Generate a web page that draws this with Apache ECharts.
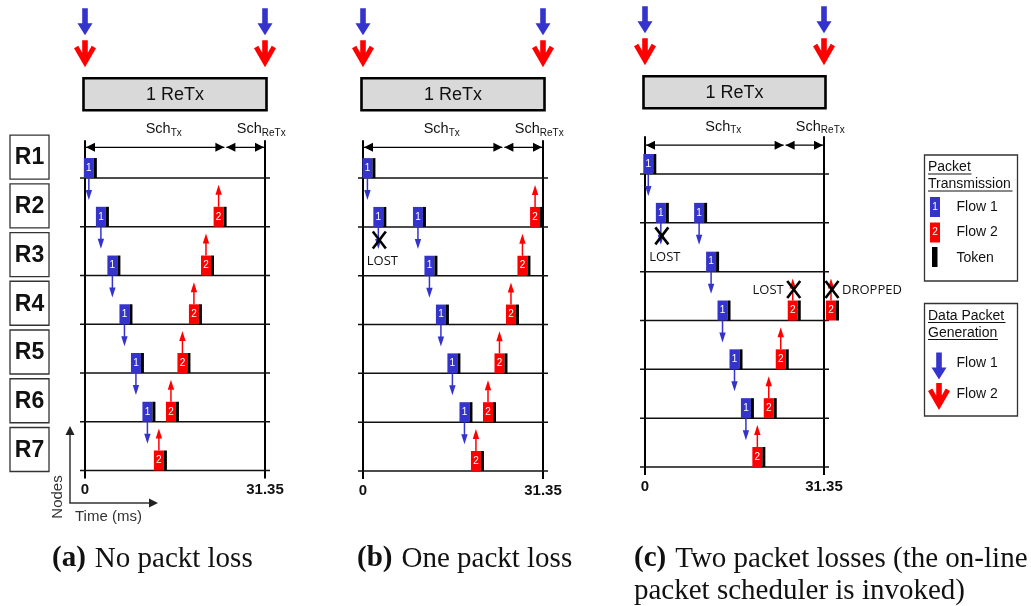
<!DOCTYPE html>
<html><head><meta charset="utf-8">
<script src="https://cdn.jsdelivr.net/npm/echarts@6/dist/echarts.min.js"></script>
<style>html,body{margin:0;padding:0;background:#fff}#c{width:1031px;height:606px}</style>
</head><body><div id="c"></div>
<script>
// ---------------- data ----------------
const rowLabels = ['R1', 'R2', 'R3', 'R4', 'R5', 'R6', 'R7'];
const rowIndex = [1, 2, 3, 4, 5, 6, 7];
const timeTicks = [0, 31.35];
const tickLabels = ['0', '31.35'];
const genTimes = [0, 31.35];
const frameEnd = 31.35;
const schTxEnd = 24.45;
const retxText = '1 ReTx';
const schLabels = [['Sch', 'Tx'], ['Sch', 'ReTx']];
// packets: [start time (ms), node row, status: 0 ok, 1 lost, 2 dropped]
const aFlow1 = [[-0.2, 1, 0], [1.9, 2, 0], [3.9, 3, 0], [6.0, 4, 0], [8.0, 5, 0], [10.0, 6, 0]];
const aFlow2 = [[12.0, 7, 0], [14.1, 6, 0], [16.1, 5, 0], [18.1, 4, 0], [20.2, 3, 0], [22.4, 2, 0]];
const bFlow1 = [[-0.1, 1, 0], [1.8, 2, 1], [8.7, 2, 0], [10.7, 3, 0], [12.7, 4, 0], [14.7, 5, 0], [16.8, 6, 0]];
const bFlow2 = [[18.8, 7, 0], [20.9, 6, 0], [22.9, 5, 0], [24.9, 4, 0], [26.9, 3, 0], [29.1, 2, 0]];
const cFlow1 = [[-0.3, 1, 0], [1.9, 2, 1], [8.6, 2, 0], [10.7, 3, 0], [12.7, 4, 0], [14.8, 5, 0], [16.8, 6, 0]];
const cFlow2 = [[18.8, 7, 0], [20.8, 6, 0], [22.9, 5, 0], [25.0, 4, 1], [31.7, 4, 2]];
const statusText = ['', 'LOST', 'DROPPED'];
const captionTags = ['(a)', '(b)', '(c)'];
const captionTexts = [['No packt loss'], ['One packt loss'], ['Two packet losses (the on-line', 'packet scheduler is invoked)']];
const legendTx = { title: ['Packet', 'Transmission'], items: ['Flow 1', 'Flow 2', 'Token'] };
const legendGen = { title: ['Data Packet', 'Generation'], items: ['Flow 1', 'Flow 2'] };
const axisNames = { nodes: 'Nodes', time: 'Time (ms)' };

// ---------------- layout / style ----------------
const BLUE = '#3434cc', RED = '#ff0000';
const SANS = 'Liberation Sans, Arial, sans-serif';
const LOSTFONT = '13px Open Sans, sans-serif';
const grids = [
  { left: 85, top: 129.3, width: 180, height: 341.2 },
  { left: 363, top: 129.3, width: 180, height: 341.7 },
  { left: 645, top: 125.2, width: 179, height: 341.8 }
];
const headerShift = [0, 0, 2];
const panelFlows = [[aFlow1, aFlow2], [bFlow1, bFlow2], [cFlow1, cFlow2]];

function blueArrow(x, tip) {
  return { type: 'polygon', shape: { points: [[x - 2.8, tip - 27], [x + 2.8, tip - 27], [x + 2.8, tip - 12], [x + 7.5, tip - 12], [x, tip], [x - 7.5, tip - 12], [x - 2.8, tip - 12]] }, style: { fill: BLUE } };
}
function redArrow(x, tip) {
  return { type: 'polygon', shape: { points: [[x, tip], [x - 11, tip - 19], [x - 6.7, tip - 21.5], [x - 2.8, tip - 14.5], [x - 2.8, tip - 27], [x + 2.8, tip - 27], [x + 2.8, tip - 14.5], [x + 6.7, tip - 21.5], [x + 11, tip - 19]] }, style: { fill: RED } };
}
function crossMark(cx, cy) {
  return [
    { type: 'line', shape: { x1: cx - 6.5, y1: cy - 8.5, x2: cx + 6.5, y2: cy + 8.5 }, style: { stroke: '#000', lineWidth: 2.6 } },
    { type: 'line', shape: { x1: cx + 6.5, y1: cy - 8.5, x2: cx - 6.5, y2: cy + 8.5 }, style: { stroke: '#000', lineWidth: 2.6 } }
  ];
}

const series = [];
grids.forEach(function (g, gi) {
  const sh = headerShift[gi];
  const base = { type: 'custom', xAxisIndex: gi, yAxisIndex: gi, clip: false, silent: true, animation: false };
  // generation arrows
  series.push(Object.assign({}, base, {
    data: genTimes.map(function (t) { return [t, 0]; }),
    renderItem: function (params, api) {
      const p = api.coord([api.value(0), 0]);
      return { type: 'group', children: [blueArrow(p[0], p[1] - 94 + sh), redArrow(p[0], p[1] - 62 + sh)] };
    }
  }));
  // ReTx frame box
  series.push(Object.assign({}, base, {
    data: [[0, frameEnd]],
    renderItem: function (params, api) {
      const p0 = api.coord([api.value(0), 0]);
      const p1 = api.coord([api.value(1), 0]);
      const y0 = p0[1] - 51 + sh;
      return { type: 'group', children: [
        { type: 'rect', shape: { x: p0[0] - 1.5, y: y0, width: p1[0] - p0[0] + 3, height: 32 }, style: { fill: '#d9d9d9', stroke: '#000', lineWidth: 2.6 } },
        { type: 'text', style: { x: (p0[0] + p1[0]) / 2, y: y0 + 16.5, text: retxText, font: '18px ' + SANS, fill: '#111', align: 'center', verticalAlign: 'middle' } }
      ] };
    }
  }));
  // schedule spans
  series.push(Object.assign({}, base, {
    data: [[0, schTxEnd, 0], [schTxEnd, frameEnd, 1]],
    renderItem: function (params, api) {
      const p0 = api.coord([api.value(0), 0]);
      const p1 = api.coord([api.value(1), 0]);
      const k = api.value(2);
      const y = p0[1] + 18 + sh;
      const lab = schLabels[k];
      const shift = k === 0 ? 8.5 : 16;
      return { type: 'group', children: [
        { type: 'line', shape: { x1: p0[0] + 1, y1: y, x2: p1[0] - 1, y2: y }, style: { stroke: '#000', lineWidth: 1.3 } },
        { type: 'polygon', shape: { points: [[p0[0] + 1, y], [p0[0] + 10, y - 4.5], [p0[0] + 10, y + 4.5]] }, style: { fill: '#000' } },
        { type: 'polygon', shape: { points: [[p1[0] - 1, y], [p1[0] - 10, y - 4.5], [p1[0] - 10, y + 4.5]] }, style: { fill: '#000' } },
        { type: 'text', style: { x: (p0[0] + p1[0]) / 2 + shift, y: p0[1] + 0.5 + sh, text: '{a|' + lab[0] + '}{b|' + lab[1] + '}', align: 'center', verticalAlign: 'middle',
          rich: { a: { fontSize: 14.5, fontFamily: SANS, lineHeight: 16, verticalAlign: 'top', fill: '#111', color: '#111' },
                  b: { fontSize: 10, fontFamily: SANS, lineHeight: 12, padding: [8, 0, 0, 0], verticalAlign: 'bottom', fill: '#111', color: '#111' } } } }
      ] };
    }
  }));
  // boundary lines at 0 and frame end
  series.push(Object.assign({}, base, {
    data: timeTicks.map(function (t) { return [t, 0]; }),
    renderItem: function (params, api) {
      const pTop = api.coord([api.value(0), 0]);
      const pBot = api.coord([api.value(0), rowIndex[rowIndex.length - 1]]);
      return { type: 'line', shape: { x1: pTop[0], y1: pTop[1] + 11, x2: pTop[0], y2: pBot[1] + 8 }, style: { stroke: '#000', lineWidth: 2 } };
    }
  }));
  // node row lines
  series.push(Object.assign({}, base, {
    data: rowIndex.map(function (r) { return [0, r]; }),
    renderItem: function (params, api) {
      const p0 = api.coord([0, api.value(1)]);
      const p1 = api.coord([frameEnd, api.value(1)]);
      return { type: 'line', shape: { x1: p0[0] - 5, y1: p0[1], x2: p1[0] + 5, y2: p1[1] }, style: { stroke: '#111', lineWidth: 1.5 } };
    }
  }));
  // packets
  panelFlows[gi].forEach(function (flowData, fi) {
    const flow = fi + 1;
    series.push(Object.assign({}, base, {
      z: 5,
      data: flowData,
      renderItem: function (params, api) {
        const p = api.coord([api.value(0), api.value(1)]);
        const status = api.value(2);
        const x = p[0], y = p[1], W = 10, TW = 3, H = 20;
        const cx = x + W / 2;
        const color = flow === 1 ? BLUE : RED;
        const ch = [];
        if (flow === 1) {
          ch.push({ type: 'line', shape: { x1: cx, y1: y, x2: cx, y2: y + 13 }, style: { stroke: color, lineWidth: 1.5 } });
          ch.push({ type: 'polygon', shape: { points: [[cx - 3.2, y + 12], [cx + 3.2, y + 12], [cx, y + 22]] }, style: { fill: color } });
        } else {
          const top = y - H;
          ch.push({ type: 'line', shape: { x1: cx, y1: top, x2: cx, y2: top - 13 }, style: { stroke: color, lineWidth: 1.5 } });
          ch.push({ type: 'polygon', shape: { points: [[cx - 3.2, top - 12], [cx + 3.2, top - 12], [cx, top - 22]] }, style: { fill: color } });
        }
        ch.push({ type: 'rect', shape: { x: x, y: y - H, width: W, height: H }, style: { fill: color } });
        ch.push({ type: 'rect', shape: { x: x + W, y: y - H, width: TW, height: H }, style: { fill: '#000' } });
        ch.push({ type: 'text', style: { x: cx, y: y - H / 2, text: String(flow), font: '10px ' + SANS, fill: '#fff', align: 'center', verticalAlign: 'middle' } });
        if (status > 0) {
          if (flow === 1) {
            Array.prototype.push.apply(ch, crossMark(cx + 1, y + 13));
            ch.push({ type: 'text', style: { x: cx + 4, y: y + 34, text: statusText[status], font: LOSTFONT, fill: '#111', align: 'center', verticalAlign: 'middle' } });
          } else {
            const cy = y - H - 11;
            Array.prototype.push.apply(ch, crossMark(cx + 1, cy));
            if (status === 1) {
              ch.push({ type: 'text', style: { x: cx - 9, y: cy + 1, text: statusText[status], font: LOSTFONT, fill: '#111', align: 'right', verticalAlign: 'middle' } });
            } else {
              ch.push({ type: 'text', style: { x: cx + 11, y: cy + 1, text: statusText[status], font: LOSTFONT, fill: '#111', align: 'left', verticalAlign: 'middle' } });
            }
          }
        }
        return { type: 'group', children: ch };
      }
    }));
  });
});
// node label boxes (left of panel a)
series.push({
  type: 'custom', xAxisIndex: 0, yAxisIndex: 0, clip: false, silent: true, animation: false,
  data: rowIndex.map(function (r) { return [0, r]; }),
  renderItem: function (params, api) {
    const p = api.coord([0, api.value(1)]);
    const x = p[0] - 75, y = p[1] - 43;
    return { type: 'group', children: [
      { type: 'rect', shape: { x: x, y: y, width: 39, height: 44 }, style: { fill: '#fff', stroke: '#333', lineWidth: 1.3 } },
      { type: 'text', style: { x: x + 19.5, y: y + 23, text: rowLabels[params.dataIndex], font: 'bold 23px ' + SANS, fill: '#111', align: 'center', verticalAlign: 'middle' } }
    ] };
  }
});

const xAxes = grids.map(function (g, gi) {
  return {
    type: 'value', gridIndex: gi, min: 0, max: frameEnd,
    axisLine: { show: false }, axisTick: { show: false }, splitLine: { show: false },
    axisLabel: {
      customValues: timeTicks, margin: 12, fontSize: 15, fontWeight: 'bold', color: '#111', fontFamily: SANS,
      formatter: function (v) { const i = timeTicks.findIndex(function (t) { return Math.abs(t - v) < 1e-6; }); return i >= 0 ? tickLabels[i] : ''; }
    }
  };
});
const yAxes = grids.map(function (g, gi) {
  return { type: 'value', gridIndex: gi, min: 0, max: 7, inverse: true, show: false };
});

// static graphics: axis hint, legend, captions
const graphic = [];
graphic.push({ type: 'line', shape: { x1: 70, y1: 503, x2: 70, y2: 433 }, style: { stroke: '#333', lineWidth: 1.5 } });
graphic.push({ type: 'polygon', shape: { points: [[70, 426], [65.5, 435], [74.5, 435]] }, style: { fill: '#222' } });
graphic.push({ type: 'line', shape: { x1: 69.3, y1: 503, x2: 150, y2: 503 }, style: { stroke: '#333', lineWidth: 1.5 } });
graphic.push({ type: 'polygon', shape: { points: [[158, 503], [149, 498.5], [149, 507.5]] }, style: { fill: '#222' } });
graphic.push({ type: 'text', x: 58, y: 497, rotation: Math.PI / 2, style: { text: axisNames.nodes, font: '15px ' + SANS, fill: '#333', align: 'center', verticalAlign: 'middle' } });
graphic.push({ type: 'text', x: 75, y: 517, style: { text: axisNames.time, font: '15px ' + SANS, fill: '#333', align: 'left', verticalAlign: 'middle' } });

function legendTitle(lines, x, ys) {
  lines.forEach(function (t, i) {
    graphic.push({ type: 'text', x: x, y: ys[i], style: { text: t, font: '14px ' + SANS, fill: '#111', align: 'left', verticalAlign: 'middle' } });
  });
}
graphic.push({ type: 'rect', shape: { x: 924.5, y: 155, width: 93, height: 126 }, style: { fill: '#fff', stroke: '#333', lineWidth: 1.3 } });
legendTitle(legendTx.title, 928, [167.5, 184.5]);
graphic.push({ type: 'line', shape: { x1: 928, y1: 174, x2: 971.5, y2: 174 }, style: { stroke: '#111', lineWidth: 1 } });
graphic.push({ type: 'line', shape: { x1: 928, y1: 191, x2: 1012.5, y2: 191 }, style: { stroke: '#111', lineWidth: 1 } });
graphic.push({ type: 'rect', shape: { x: 930, y: 197, width: 10, height: 20 }, style: { fill: BLUE } });
graphic.push({ type: 'text', x: 935, y: 207, style: { text: '1', font: '10px ' + SANS, fill: '#fff', align: 'center', verticalAlign: 'middle' } });
graphic.push({ type: 'rect', shape: { x: 930, y: 222.5, width: 10, height: 20 }, style: { fill: RED } });
graphic.push({ type: 'text', x: 935, y: 232.5, style: { text: '2', font: '10px ' + SANS, fill: '#fff', align: 'center', verticalAlign: 'middle' } });
graphic.push({ type: 'rect', shape: { x: 932, y: 247, width: 5.5, height: 20 }, style: { fill: '#000' } });
legendTx.items.forEach(function (t, i) {
  graphic.push({ type: 'text', x: 956.5, y: [207.5, 232, 258][i], style: { text: t, font: '14px ' + SANS, fill: '#111', align: 'left', verticalAlign: 'middle' } });
});
graphic.push({ type: 'rect', shape: { x: 924.5, y: 303.5, width: 93, height: 112.5 }, style: { fill: '#fff', stroke: '#333', lineWidth: 1.3 } });
legendTitle(legendGen.title, 928, [316, 333]);
graphic.push({ type: 'line', shape: { x1: 928, y1: 322.5, x2: 1005.5, y2: 322.5 }, style: { stroke: '#111', lineWidth: 1 } });
graphic.push({ type: 'line', shape: { x1: 928, y1: 339.5, x2: 998, y2: 339.5 }, style: { stroke: '#111', lineWidth: 1 } });
graphic.push(blueArrow(939, 379.5));
graphic.push(redArrow(939, 410));
legendGen.items.forEach(function (t, i) {
  graphic.push({ type: 'text', x: 956.5, y: [363, 394.5][i], style: { text: t, font: '14px ' + SANS, fill: '#111', align: 'left', verticalAlign: 'middle' } });
});
// captions
const capX = [52, 357, 634];
captionTags.forEach(function (tag, i) {
  captionTexts[i].forEach(function (line, li) {
    const txt = li === 0 ? '{b|' + tag + '}{n|' + line + '}' : '{n|' + line + '}';
    graphic.push({ type: 'text', x: capX[i], y: 559 + li * 32, style: { text: txt, align: 'left', verticalAlign: 'middle',
      rich: { b: { fontSize: 29, fontWeight: 'bold', fontFamily: 'Liberation Serif, serif', fill: '#111', color: '#111', padding: [0, 9, 0, 0] },
              n: { fontSize: 29, fontFamily: 'Liberation Serif, serif', fill: '#111', color: '#111' } } } });
  });
});

const chart = echarts.init(document.getElementById('c'), null, { renderer: 'canvas' });
chart.setOption({
  animation: false,
  backgroundColor: '#fff',
  grid: grids,
  xAxis: xAxes,
  yAxis: yAxes,
  series: series,
  graphic: graphic
});
</script>
</body></html>
